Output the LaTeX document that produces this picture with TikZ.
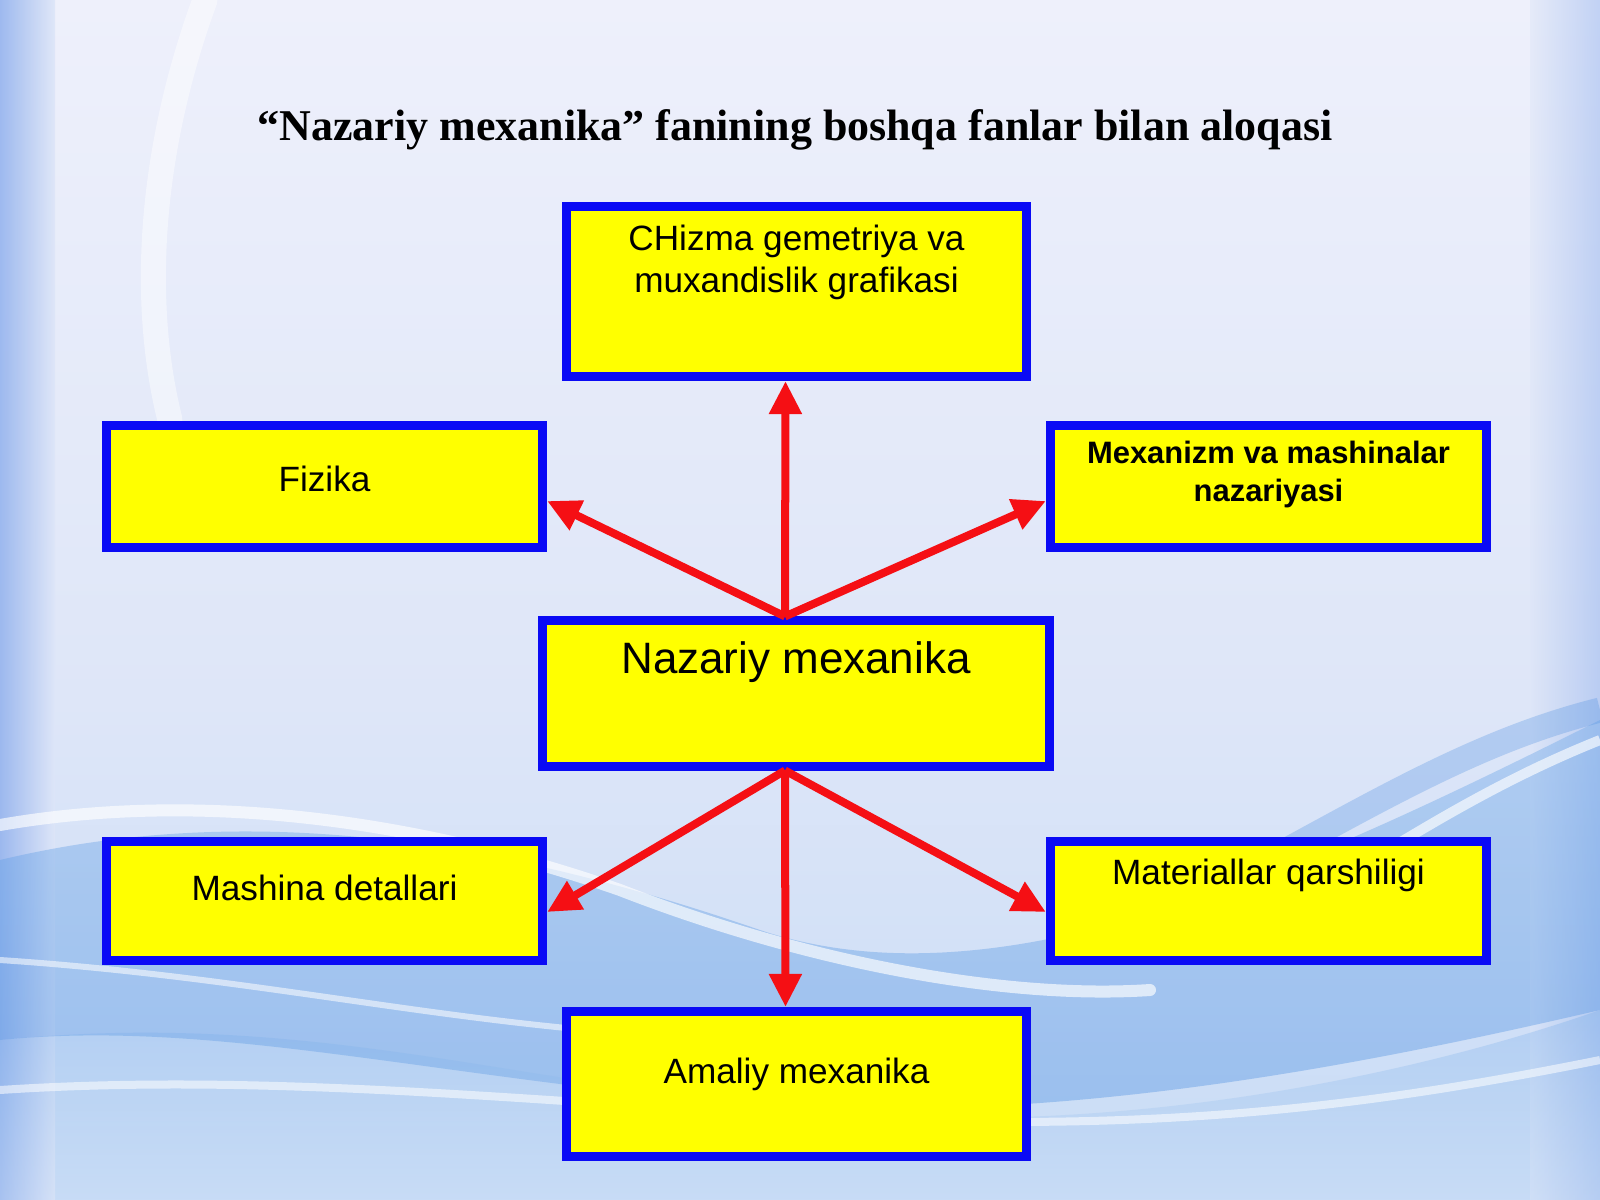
\documentclass[tikz,border=0pt]{standalone}
\usepackage{fontspec}
\setmainfont{Liberation Serif}
\newfontfamily\arialf{Liberation Sans}
\usetikzlibrary{arrows.meta}
\definecolor{boxblue}{RGB}{10,10,245}
\definecolor{boxyellow}{RGB}{255,255,0}
\definecolor{arrred}{RGB}{245,15,20}
\definecolor{bgtop}{RGB}{238,240,251}
\definecolor{bgmid}{RGB}{222,230,248}
\definecolor{bgbot}{RGB}{200,220,246}
\definecolor{wave}{RGB}{110,168,232}
\definecolor{wavedark}{RGB}{80,145,225}
\definecolor{edgeblue}{RGB}{150,180,238}
\begin{document}
\begin{tikzpicture}[x=0.01cm,y=-0.01cm,
  box/.style={draw=boxblue, fill=boxyellow, line width=0.09cm, rectangle,
    inner sep=0pt, outer sep=0.045cm},
  conn/.style={draw=arrred, line width=0.08cm,
    -{Triangle[length=0.33cm,width=0.31cm]}},
  btext/.style={font=\arialf\fontsize{10}{11.9}\selectfont, align=center, anchor=base, inner sep=0pt},
]
% ---------- background ----------
\useasboundingbox (0,0) rectangle (1600,1200);
\shade[top color=bgtop, bottom color=bgmid] (0,0) rectangle (1600,700);
\shade[top color=bgmid, bottom color=bgbot] (0,700) rectangle (1600,1200);
\shade[left color=edgeblue, right color=bgmid, opacity=0.9] (0,0) rectangle (55,1200);
\shade[left color=bgmid, right color=edgeblue, opacity=0.5] (1530,0) rectangle (1600,1200);
\draw[white, line width=0.25cm, opacity=0.45, line cap=round]
  (205,0) .. controls (150,150) and (140,300) .. (170,420);
% blue waves
\shade[top color=wave, bottom color=wavedark, opacity=0.4]
  (0,860) .. controls (250,800) and (500,840) .. (760,930)
  .. controls (1000,1010) and (1300,870) .. (1600,720)
  -- (1600,1010) .. controls (1300,1080) and (1000,1130) .. (700,1100)
  .. controls (400,1070) and (200,1020) .. (0,1040) -- cycle;
\shade[top color=wave, bottom color=bgbot, opacity=0.3]
  (0,1040) .. controls (300,1010) and (500,1080) .. (800,1110)
  .. controls (1100,1140) and (1400,1080) .. (1600,1010)
  -- (1600,1200) -- (0,1200) -- cycle;
\draw[white, line width=0.12cm, opacity=0.65, line cap=round]
  (0,825) .. controls (200,790) and (420,820) .. (620,890)
  .. controls (800,960) and (1000,1000) .. (1150,990);
\draw[white, line width=0.06cm, opacity=0.55]
  (0,960) .. controls (300,980) and (500,1040) .. (800,1040);
\draw[white, line width=0.08cm, opacity=0.55]
  (0,1090) .. controls (300,1070) and (600,1110) .. (900,1120)
  .. controls (1200,1130) and (1400,1100) .. (1600,1060);
\draw[white, line width=0.1cm, opacity=0.65]
  (1200,960) .. controls (1350,880) and (1450,800) .. (1600,740);
\draw[wavedark, line width=0.25cm, opacity=0.3]
  (1250,870) .. controls (1380,800) and (1480,740) .. (1600,710);
% ---------- title ----------
\node[font=\bfseries\fontsize{12.5}{15}\selectfont, anchor=base, inner sep=0pt] (title) at (795,140)
  {“Nazariy mexanika” fanining boshqa fanlar bilan aloqasi};
% ---------- boxes ----------
\node[box, minimum width=4.60cm, minimum height=1.70cm] (top) at (796.5,291.5) {};
\node[box, minimum width=4.36cm, minimum height=1.22cm] (fiz) at (324.5,486.5) {};
\node[box, minimum width=4.36cm, minimum height=1.22cm] (mex) at (1268.5,486.5) {};
\node[box, minimum width=5.07cm, minimum height=1.45cm] (centre) at (796,693.5) {};
\node[box, minimum width=4.36cm, minimum height=1.19cm] (mash) at (324.5,901) {};
\node[box, minimum width=4.36cm, minimum height=1.19cm] (mat) at (1268.5,901) {};
\node[box, minimum width=4.60cm, minimum height=1.45cm] (amal) at (796.5,1084) {};
% ---------- texts ----------
\node[btext] (ttop) at (796.5,292) {CHizma gemetriya va\\muxandislik grafikasi};
\node[btext] (tfiz) at (324.5,491) {Fizika};
\node[btext, font=\arialf\bfseries\fontsize{8.8}{10.8}\selectfont] (tmex) at (1268.5,501) {Mexanizm va mashinalar\\nazariyasi};
\node[btext, font=\arialf\fontsize{12.5}{15}\selectfont] (tcen) at (796,673) {Nazariy mexanika};
\node[btext] (tmash) at (324.5,900) {Mashina detallari};
\node[btext] (tmat) at (1268.5,884) {Materiallar qarshiligi};
\node[btext] (tamal) at (796.5,1083) {Amaliy mexanika};
% ---------- connectors ----------
\coordinate (hubT) at ([xshift=-0.11cm]centre.north);
\coordinate (hubB) at ([xshift=-0.11cm]centre.south);
\draw[conn] (hubT) -- ([xshift=-0.11cm]top.south);
\draw[conn] (hubT) -- ([yshift=-0.145cm]fiz.east);
\draw[conn] (hubT) -- ([yshift=-0.145cm]mex.west);
\draw[conn] (hubB) -- ([yshift=-0.11cm]mash.east);
\draw[conn] (hubB) -- ([yshift=-0.11cm]mat.west);
\draw[conn] (hubB) -- ([xshift=-0.11cm]amal.north);
\end{tikzpicture}
\end{document}
